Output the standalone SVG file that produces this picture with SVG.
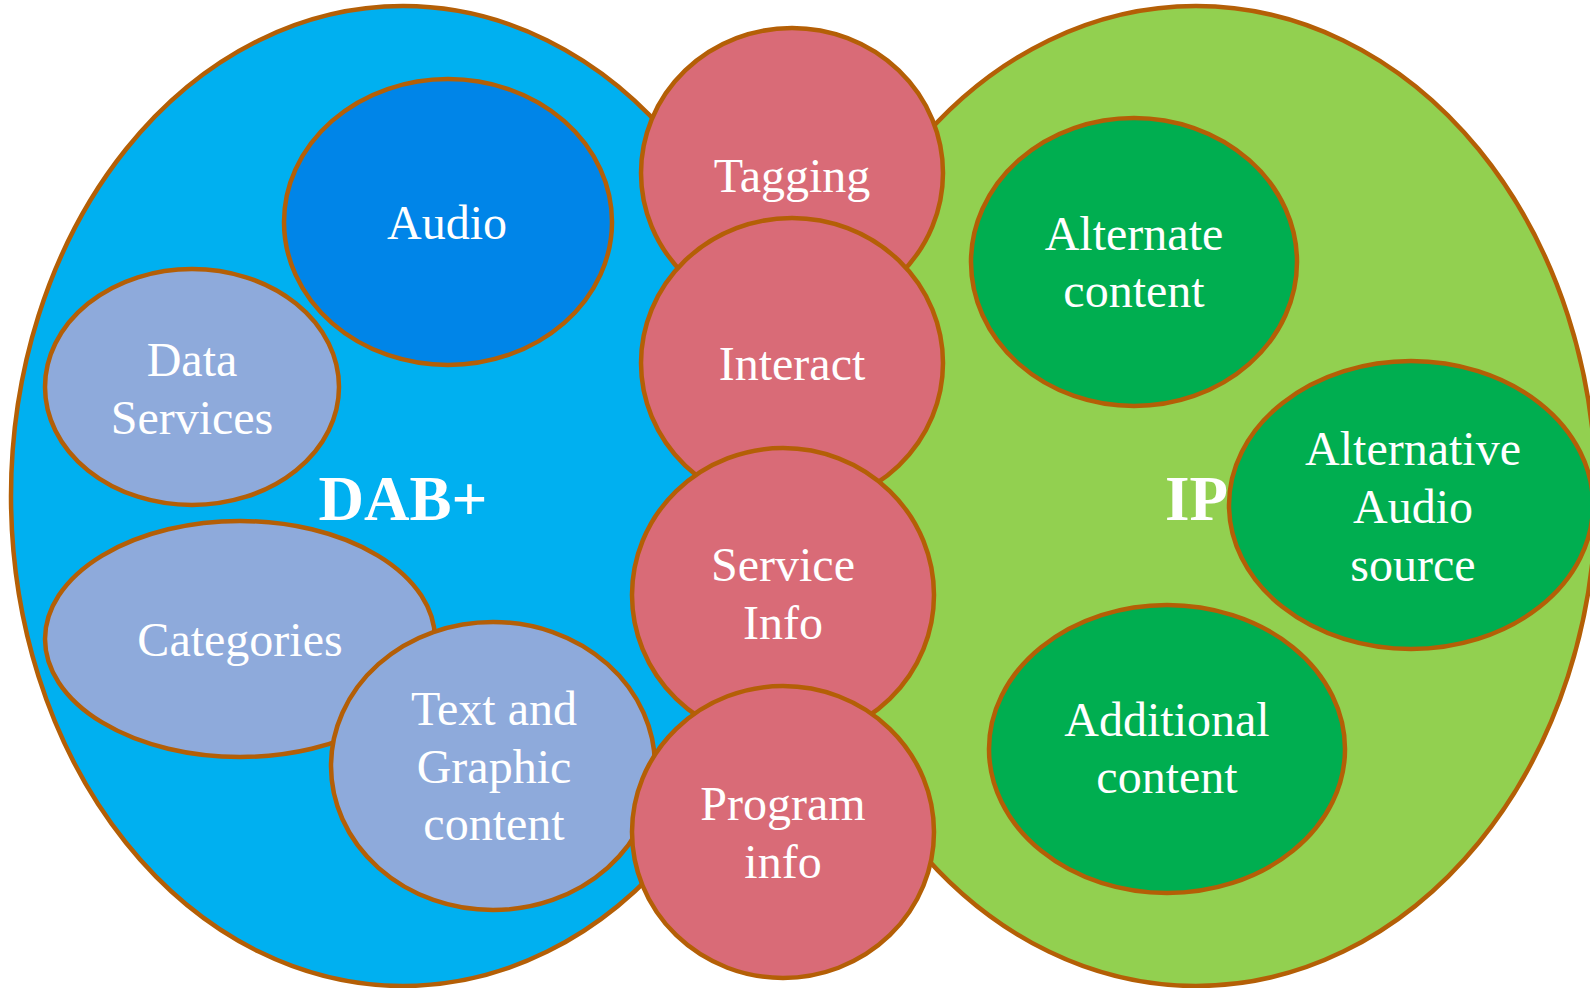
<svg xmlns="http://www.w3.org/2000/svg" width="1590" height="988" viewBox="0 0 1590 988">
<style>
ellipse{stroke:#B45F06;stroke-width:4.5}
text{font-family:"Liberation Serif","Times New Roman",serif;fill:#fff;font-size:48px;text-anchor:middle}
.big{font-weight:bold;font-size:63px}
.dab{fill:#00B0F0}.aud{fill:#0085E8}.lb{fill:#8EAADB}
.ip{fill:#92D050}.dg{fill:#00AE50}.pk{fill:#D96B77}
</style>
<rect width="1590" height="988" fill="#fff"/>
<g id="dab">
<ellipse class="dab" cx="403" cy="496" rx="392" ry="490"/>
</g>
<g id="ip">
<ellipse class="ip" cx="1196" cy="496" rx="400" ry="490"/>
</g>
<g id="audio"><ellipse class="aud" cx="448" cy="222" rx="164" ry="143"/><text x="447" y="239">Audio</text></g>
<g id="data-services"><ellipse class="lb" cx="192" cy="387" rx="147" ry="118"/><text x="192" y="376">Data</text><text x="192" y="434">Services</text></g>
<g id="categories"><ellipse class="lb" cx="240" cy="639" rx="195" ry="118"/><text x="240" y="656">Categories</text></g>
<g id="text-graphic"><ellipse class="lb" cx="493" cy="766" rx="162" ry="144"/><text x="494" y="725">Text and</text><text x="494" y="783">Graphic</text><text x="494" y="840">content</text></g>
<g id="dab-label"><text class="big" x="403" y="520">DAB+</text></g>
<g id="ip-label"><text class="big" x="1165" y="520" style="text-anchor:start">IP</text></g>
<g id="alternate"><ellipse class="dg" cx="1134" cy="262" rx="163" ry="144"/><text x="1134" y="250">Alternate</text><text x="1134" y="307">content</text></g>
<g id="alt-audio"><ellipse class="dg" cx="1411" cy="505" rx="182" ry="144"/><text x="1413" y="465">Alternative</text><text x="1413" y="523">Audio</text><text x="1413" y="581">source</text></g>
<g id="additional"><ellipse class="dg" cx="1167" cy="749" rx="178" ry="144"/><text x="1167" y="736">Additional</text><text x="1167" y="793">content</text></g>
<g id="tagging"><ellipse class="pk" cx="792" cy="173" rx="151" ry="145"/><text x="792" y="192">Tagging</text></g>
<g id="interact"><ellipse class="pk" cx="792" cy="363" rx="151" ry="145"/><text x="792" y="380">Interact</text></g>
<g id="service-info"><ellipse class="pk" cx="783" cy="595" rx="151" ry="147"/><text x="783" y="581">Service</text><text x="783" y="639">Info</text></g>
<g id="program-info"><ellipse class="pk" cx="783" cy="832" rx="151" ry="146"/><text x="783" y="820">Program</text><text x="783" y="878">info</text></g>
<g id="connectors"/>
</svg>
